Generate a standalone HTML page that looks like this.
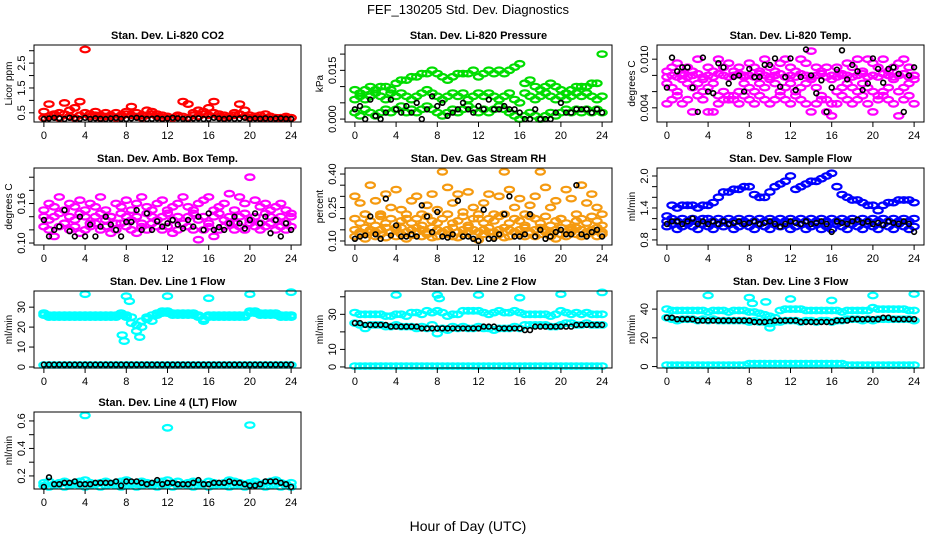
<!DOCTYPE html>
<html><head><meta charset="utf-8">
<style>
body{margin:0;background:#fff;}
svg{display:block;font-family:"Liberation Sans",sans-serif;}
</style></head>
<body>
<svg id="chart" width="936" height="540" viewBox="0 0 936 540">
<rect width="936" height="540" fill="#fff"/>
<text x="468" y="14" text-anchor="middle" font-size="13">FEF_130205  Std. Dev. Diagnostics</text>
<text x="468" y="531" text-anchor="middle" font-size="14">Hour of Day (UTC)</text>
</svg>
<script>
// ---- data arrays ----
const xTicks = [0,4,8,12,16,20,24];
const co2Red = [0.55,0.85,0.45,0.5,0.9,0.6,0.7,0.95,3.05,0.45,0.55,0.4,0.5,0.35,0.5,0.4,0.55,0.75,0.5,0.4,0.6,0.55,0.45,0.4,0.35,0.3,0.35,0.95,0.85,0.5,0.6,0.55,0.7,0.95,0.45,0.4,0.35,0.5,0.85,0.6,0.4,0.35,0.3,0.45,0.35,0.3,0.3,0.35,0.3];
const co2RedBase = [0.3,0.35,0.4,0.3,0.45,0.35,0.3,0.4,0.5,0.35,0.4,0.3,0.35,0.4,0.3,0.35,0.45,0.4,0.35,0.3,0.4,0.45,0.35,0.3,0.35,0.3,0.4,0.35,0.3,0.4,0.35,0.45,0.4,0.5,0.35,0.3,0.35,0.4,0.45,0.35,0.3,0.35,0.4,0.3,0.35,0.3,0.3,0.3,0.3];
const co2Black = [0.25,0.27,0.3,0.28,0.25,0.3,0.27,0.26,0.3,0.25,0.28,0.26,0.25,0.27,0.3,0.26,0.25,0.28,0.3,0.27,0.25,0.26,0.28,0.25,0.27,0.3,0.28,0.26,0.25,0.27,0.28,0.25,0.26,0.3,0.27,0.25,0.28,0.26,0.27,0.3,0.25,0.27,0.26,0.28,0.25,0.27,0.28,0.26,0.25];
const pressUp = [0.009,0.008,0.009,0.010,0.009,0.010,0.010,0.009,0.011,0.012,0.012,0.013,0.013,0.014,0.014,0.015,0.014,0.013,0.012,0.013,0.014,0.014,0.014,0.015,0.013,0.014,0.015,0.014,0.015,0.014,0.015,0.016,0.017,0.011,0.012,0.010,0.009,0.010,0.011,0.010,0.009,0.008,0.009,0.010,0.010,0.010,0.011,0.011,0.020];
const pressMid = [0.006,0.007,0.006,0.007,0.008,0.007,0.006,0.008,0.007,0.008,0.007,0.006,0.007,0.008,0.009,0.008,0.007,0.006,0.007,0.008,0.007,0.008,0.006,0.007,0.008,0.007,0.008,0.007,0.006,0.007,0.008,0.006,0.005,0.008,0.007,0.006,0.007,0.008,0.007,0.006,0.007,0.006,0.007,0.008,0.007,0.008,0.007,0.006,0.007];
const pressLo = [0.002,0.001,0.003,0.002,0.001,0.002,0.003,0.002,0.003,0.004,0.002,0.003,0.002,0.003,0.004,0.003,0.002,0.001,0.002,0.003,0.002,0.003,0.004,0.003,0.002,0.003,0.002,0.003,0.004,0.003,0.002,0.001,0.000,0.001,0.002,0.001,0.000,0.001,0.002,0.001,0.002,0.003,0.002,0.003,0.002,0.003,0.002,0.003,0.002];
const pressBlack = [0.003,0.004,0.000,0.006,0.001,0.000,0.002,0.006,0.003,0.002,0.004,0.002,0.005,0.000,0.003,0.007,0.004,0.005,0.001,0.002,0.003,0.005,0.003,0.002,0.004,0.003,0.006,0.003,0.003,0.004,0.003,0.003,0.002,0.000,0.000,0.003,0.000,0.000,0.000,0.002,0.005,0.002,0.002,0.003,0.003,0.003,0.002,0.003,0.002];
const tempA = [0.0085,0.009,0.0095,0.008,0.009,0.0085,0.010,0.0075,0.009,0.0085,0.010,0.009,0.0095,0.0085,0.009,0.008,0.0095,0.009,0.0085,0.010,0.009,0.0085,0.0095,0.010,0.009,0.0085,0.010,0.0095,0.011,0.009,0.0085,0.009,0.0075,0.009,0.008,0.0095,0.009,0.010,0.0085,0.010,0.0095,0.009,0.010,0.0085,0.009,0.0095,0.010,0.009,0.008];
const tempB = [0.007,0.0065,0.006,0.0075,0.007,0.0065,0.007,0.006,0.0065,0.007,0.0055,0.006,0.005,0.0055,0.006,0.007,0.0065,0.006,0.007,0.0065,0.0075,0.007,0.006,0.0065,0.007,0.006,0.0065,0.007,0.0075,0.0065,0.0055,0.005,0.0045,0.006,0.0065,0.007,0.0065,0.006,0.007,0.0065,0.006,0.0055,0.006,0.0065,0.0075,0.006,0.0065,0.007,0.0075];
const tempC = [0.0045,0.005,0.0055,0.0045,0.005,0.0035,0.0055,0.005,0.0035,0.0035,0.0045,0.005,0.0055,0.005,0.0045,0.0055,0.005,0.0045,0.0055,0.005,0.0045,0.005,0.0055,0.005,0.0045,0.0055,0.005,0.0045,0.0035,0.0045,0.005,0.0035,0.003,0.0045,0.0055,0.005,0.0045,0.005,0.0055,0.0045,0.0035,0.005,0.0055,0.005,0.0045,0.003,0.005,0.0055,0.0045];
const tempD = [0.0078,0.008,0.0078,0.0082,0.0078,0.008,0.0082,0.0078,0.008,0.0078,0.0082,0.008,0.0078,0.008,0.0082,0.0078,0.008,0.0078,0.0082,0.008,0.0078,0.008,0.0082,0.0078,0.008,0.0078,0.0082,0.008,0.0078,0.008,0.0082,0.0078,0.008,0.0078,0.0082,0.008,0.0078,0.008,0.0082,0.0078,0.008,0.0078,0.0082,0.008,0.0078,0.008,0.0082,0.0078,0.008];
const tempBlack = [0.0065,0.0102,0.0085,0.009,0.009,0.0065,0.0035,0.0102,0.006,0.0058,0.0095,0.009,0.007,0.0078,0.008,0.006,0.0088,0.0078,0.0078,0.0093,0.0093,0.0101,0.0066,0.0078,0.0101,0.0062,0.0078,0.0112,0.008,0.0058,0.0074,0.0035,0.0065,0.0087,0.0111,0.0075,0.0093,0.0085,0.0062,0.007,0.0101,0.0088,0.0071,0.0088,0.009,0.0082,0.0035,0.008,0.009];
const ambA = [0.15,0.16,0.155,0.17,0.15,0.16,0.155,0.165,0.15,0.16,0.155,0.17,0.15,0.14,0.16,0.155,0.165,0.15,0.16,0.17,0.155,0.15,0.16,0.165,0.15,0.155,0.16,0.17,0.155,0.15,0.16,0.165,0.17,0.15,0.155,0.16,0.175,0.15,0.17,0.16,0.2,0.165,0.155,0.16,0.15,0.155,0.16,0.15,0.145];
const ambB = [0.14,0.135,0.14,0.145,0.13,0.14,0.135,0.145,0.14,0.13,0.14,0.145,0.135,0.14,0.13,0.145,0.14,0.135,0.14,0.13,0.145,0.14,0.135,0.14,0.145,0.135,0.14,0.13,0.14,0.145,0.135,0.14,0.13,0.14,0.145,0.135,0.14,0.13,0.14,0.145,0.135,0.14,0.13,0.145,0.14,0.135,0.14,0.13,0.14];
const ambC = [0.125,0.12,0.11,0.125,0.13,0.12,0.125,0.115,0.12,0.125,0.13,0.12,0.125,0.115,0.12,0.13,0.125,0.12,0.115,0.125,0.12,0.13,0.125,0.12,0.125,0.115,0.12,0.13,0.125,0.12,0.105,0.12,0.125,0.11,0.12,0.125,0.13,0.12,0.125,0.12,0.13,0.125,0.12,0.125,0.13,0.12,0.125,0.12,0.125];
const ambBlack = [0.135,0.11,0.12,0.125,0.15,0.118,0.11,0.14,0.11,0.128,0.11,0.125,0.14,0.128,0.12,0.11,0.132,0.132,0.15,0.12,0.145,0.12,0.133,0.125,0.13,0.135,0.128,0.122,0.135,0.125,0.14,0.12,0.145,0.12,0.124,0.12,0.13,0.14,0.13,0.122,0.135,0.145,0.13,0.14,0.115,0.135,0.11,0.13,0.12];
const rhUp = [0.3,0.27,0.22,0.35,0.28,0.22,0.31,0.25,0.33,0.24,0.2,0.28,0.3,0.22,0.26,0.31,0.24,0.41,0.34,0.27,0.31,0.23,0.32,0.25,0.2,0.27,0.31,0.22,0.3,0.41,0.33,0.25,0.29,0.22,0.26,0.3,0.41,0.34,0.25,0.28,0.2,0.33,0.29,0.22,0.35,0.27,0.31,0.25,0.22];
const rhMid = [0.2,0.18,0.22,0.19,0.17,0.21,0.18,0.2,0.16,0.19,0.22,0.18,0.2,0.17,0.21,0.19,0.18,0.2,0.22,0.18,0.19,0.21,0.17,0.2,0.22,0.18,0.2,0.19,0.21,0.22,0.18,0.2,0.19,0.17,0.21,0.2,0.18,0.21,0.17,0.19,0.2,0.18,0.16,0.19,0.2,0.18,0.21,0.19,0.17];
const rhLo = [0.12,0.13,0.11,0.14,0.12,0.13,0.115,0.14,0.12,0.13,0.11,0.125,0.14,0.12,0.13,0.115,0.12,0.14,0.13,0.12,0.115,0.13,0.14,0.12,0.105,0.13,0.14,0.12,0.13,0.115,0.12,0.14,0.13,0.12,0.135,0.12,0.13,0.14,0.12,0.11,0.13,0.12,0.14,0.13,0.12,0.13,0.14,0.12,0.13];
const rhLo2 = [0.15,0.14,0.16,0.15,0.14,0.15,0.16,0.14,0.15,0.16,0.14,0.15,0.16,0.15,0.14,0.16,0.15,0.14,0.15,0.16,0.14,0.15,0.16,0.15,0.14,0.15,0.16,0.14,0.15,0.16,0.15,0.14,0.15,0.16,0.14,0.15,0.16,0.15,0.14,0.15,0.16,0.14,0.15,0.16,0.15,0.14,0.15,0.16,0.14];
const rhBlack = [0.11,0.12,0.125,0.21,0.13,0.11,0.29,0.125,0.17,0.12,0.12,0.13,0.12,0.26,0.21,0.14,0.23,0.12,0.115,0.13,0.28,0.12,0.12,0.11,0.1,0.24,0.11,0.11,0.13,0.22,0.3,0.12,0.12,0.13,0.22,0.12,0.15,0.11,0.12,0.14,0.15,0.13,0.13,0.35,0.13,0.12,0.14,0.15,0.12];
const sfUp = [1.25,1.45,1.4,1.45,1.45,1.45,1.4,1.45,1.45,1.5,1.6,1.7,1.7,1.75,1.75,1.8,1.8,1.65,1.6,1.6,1.7,1.8,1.85,1.9,2.0,1.75,1.8,1.85,1.9,1.9,1.95,2.0,2.05,1.8,1.65,1.6,1.55,1.55,1.5,1.45,1.45,1.35,1.45,1.5,1.5,1.55,1.55,1.55,1.5];
const sfLo = [1.05,1.1,1.0,1.05,1.1,1.05,1.0,1.1,1.05,1.0,1.1,1.05,1.1,1.0,1.05,1.1,1.05,1.0,1.1,1.05,1.0,1.1,1.05,1.1,1.0,1.05,1.1,1.0,1.05,1.1,1.0,1.05,1.0,1.1,1.05,1.0,1.1,1.05,1.0,1.1,1.05,1.0,1.1,1.05,1.0,1.1,1.05,1.0,1.05];
const sfMid = [1.15,1.2,1.15,1.2,1.15,1.2,1.15,1.2,1.2,1.15,1.2,1.15,1.2,1.15,1.2,1.15,1.2,1.15,1.2,1.15,1.2,1.15,1.2,1.15,1.2,1.15,1.2,1.15,1.2,1.15,1.2,1.15,1.2,1.15,1.2,1.15,1.2,1.15,1.2,1.15,1.2,1.15,1.2,1.15,1.2,1.15,1.2,1.15,1.2];
const sfBlack = [1.1,1.15,1.15,1.1,1.15,1.2,1.1,1.15,1.1,1.15,1.1,1.15,1.1,1.12,1.15,1.1,1.12,1.15,1.1,1.12,1.15,1.1,1.05,1.1,1.15,1.12,1.1,1.15,1.1,1.12,1.15,1.1,0.95,1.15,1.12,1.1,1.15,1.18,1.12,1.15,1.1,1.12,1.08,1.15,1.12,1.1,1.15,1.1,0.95];
const l1Up = [27,26,26,26,26,25,26,25,25,26,25,26,25,25,26,26,25,22,18,20,24,23,26,27,27,27,27,26,26,27,26,24,25,26,26,25,26,26,26,25,27,27,27,26,27,26,26,26,26];
const l1Up2 = [26,25,25,25,25,26,25,26,26,25,26,25,26,26,25,27,26,25,21,23,25,26,27,28,28,26,26,27,27,26,25,23,26,25,25,26,25,25,25,26,28,28,26,27,26,27,25,25,25];
const l1OutHours = [4,7.6,7.8,8,8.3,9.3,12,16,20,24];
const l1OutVals = [36.5,16,13,35.5,33,15,35.5,34.5,36.5,37.5];
const l1Base = [1,1,1,1,1,1,1,1,1,1,1,1,1,1,1,1,1,1,1,1,1,1,1,1,1,1,1,1,1,1,1,1,1,1,1,1,1,1,1,1,1,1,1,1,1,1,1,1,1];
const l1Black = [1.2,1.2,1.2,1.2,1.2,1.2,1.2,1.2,1.2,1.2,1.2,1.2,1.2,1.2,1.2,1.2,1.2,1.2,1.2,1.2,1.2,1.2,1.2,1.2,1.2,1.2,1.2,1.2,1.2,1.2,1.2,1.2,1.2,1.2,1.2,1.2,1.2,1.2,1.2,1.2,1.2,1.2,1.2,1.2,1.2,1.2,1.2,1.2,1.2];
const l2Up = [31,30,30,30,30,30,29,29,30,30,29,31,31,30,32,31,32,31,29,30,30,32,32,32,32,31,30,31,32,31,31,32,31,30,30,30,30,30,29,30,32,31,30,31,30,31,30,30,30];
const l2Mid = [25,24,22,24,24,24,23,23,24,23,23,23,22,23,22,24,19,22,21,23,22,23,22,22,23,22,22,21,22,22,22,23,22,24,24,24,24,24,23,23,24,25,25,24,24,25,24,24,24];
const l2OutHours = [4,8,8.2,12,16,20,24];
const l2OutVals = [41,41,39,41,39.5,41.5,42.5];
const l2Base = [0.5,0.5,0.5,0.5,0.5,0.5,0.5,0.5,0.5,0.5,0.5,0.5,0.5,0.5,0.5,0.5,0.5,0.5,0.5,0.5,0.5,0.5,0.5,0.5,0.5,0.5,0.5,0.5,0.5,0.5,0.5,0.5,0.5,0.5,0.5,0.5,0.5,0.5,0.5,0.5,0.5,0.5,0.5,0.5,0.5,0.5,0.5,0.5,0.5];
const l2Black = [25,25,24,24,24,24,24,23,23,23,23,23,23,22,22,22,22,22,22,22,22,22,22,22,22,23,23,23,22,22,22,22,22,21,21,23,23,23,23,23,23,23,23,24,24,24,24,24,24];
const l3Up = [40,39,39,39,39,39,39,39,38,39,39,39,38,39,39,39,38,38,37,36,35,34,39,40,40,40,40,39,39,39,39,39,39,39,38,39,39,39,39,39,41,40,40,40,40,40,40,39,39];
const l3Mid = [34,33,32,33,33,33,32,33,32,33,32,32,32,32,32,32,31,32,31,31,30,31,31,32,32,32,31,32,32,31,32,32,31,32,32,33,33,33,32,33,32,33,33,33,33,33,33,33,32];
const l3OutHours = [4,8,8.3,9.6,10,12,16,20,24];
const l3OutVals = [49.5,48,44,45,27,47,46,49.5,50.5];
const l3Base = [1,1,1,1,1,1,1,1,1,1,1,1,1,1,1,1,2,2,2,2,2,2,2,2,2,2,2,2,2,2,2,2,2,2,2,1,1,1,1,1,1,1,1,1,1,1,1,1,1];
const l3Black = [34,34,33,33,33,33,32,32,32,32,32,32,32,32,32,32,32,31,31,31,31,32,32,32,32,32,31,31,31,31,31,31,31,32,32,32,33,33,33,33,33,33,34,34,33,33,33,33,33];
const l4Cyan = [0.15,0.16,0.14,0.15,0.16,0.14,0.15,0.16,0.17,0.15,0.14,0.15,0.16,0.14,0.15,0.16,0.17,0.15,0.14,0.16,0.15,0.14,0.15,0.16,0.17,0.15,0.16,0.14,0.15,0.16,0.15,0.14,0.16,0.15,0.14,0.15,0.17,0.16,0.15,0.14,0.15,0.16,0.14,0.15,0.16,0.17,0.15,0.14,0.15];
const l4Cyan2 = [0.13,0.12,0.13,0.14,0.12,0.13,0.14,0.13,0.12,0.13,0.14,0.12,0.13,0.14,0.13,0.12,0.13,0.14,0.12,0.13,0.14,0.13,0.12,0.13,0.14,0.12,0.13,0.14,0.13,0.12,0.13,0.14,0.12,0.13,0.14,0.13,0.12,0.13,0.14,0.12,0.13,0.14,0.13,0.12,0.13,0.14,0.12,0.13,0.12];
const l4OutHours = [4,12,20];
const l4OutVals = [0.64,0.55,0.57];
const l4Black = [0.12,0.19,0.14,0.14,0.15,0.15,0.16,0.14,0.14,0.14,0.15,0.15,0.15,0.15,0.16,0.13,0.16,0.16,0.16,0.15,0.14,0.15,0.17,0.14,0.15,0.15,0.14,0.14,0.14,0.15,0.17,0.14,0.14,0.15,0.15,0.15,0.16,0.15,0.15,0.14,0.13,0.13,0.14,0.16,0.16,0.16,0.15,0.14,0.12];

// ---- layout (not data) ----
const colL = [34,345,657], rowT = [45,168,291,412], PW = 267, PH = 77;
const MAG="#ff00ff", CY="#00ffff", BL="#0000ff", GR="#00dd00", RD="#ff0000", OR="#f59a10", BK="#000";
const panels = [
 {name:"co2",title:"Stan. Dev. Li-820 CO2",ylab:"Licor ppm",c:0,r:0,y0:0.13,y1:3.23,ticks:[0.5,1,1.5,2,2.5,3],labs:[0.5,1.5,2.5],fmt:1,
  series:[[co2RedBase,RD],[co2Red,RD],[co2Black,BK]]},
 {name:"pressure",title:"Stan. Dev. Li-820 Pressure",ylab:"kPa",c:1,r:0,y0:-0.0009,y1:0.0228,ticks:[0,0.005,0.01,0.015,0.02],labs:[0,0.015],fmt:3,
  series:[[pressUp,GR],[pressMid,GR],[pressLo,GR],[pressBlack,BK]]},
 {name:"temp",title:"Stan. Dev. Li-820 Temp.",ylab:"degrees C",c:2,r:0,y0:0.00225,y1:0.01175,ticks:[0.004,0.006,0.008,0.01],labs:[0.004,0.01],fmt:3,
  series:[[tempA,MAG],[tempD,MAG],[tempB,MAG],[tempC,MAG],[tempBlack,BK]]},
 {name:"amb-box-temp",title:"Stan. Dev. Amb. Box Temp.",ylab:"degrees C",c:0,r:1,y0:0.097,y1:0.214,ticks:[0.1,0.12,0.14,0.16,0.18,0.2],labs:[0.1,0.16],fmt:2,
  series:[[ambA,MAG],[ambB,MAG],[ambC,MAG],[ambBlack,BK]]},
 {name:"gas-rh",title:"Stan. Dev. Gas Stream RH",ylab:"percent",c:1,r:1,y0:0.082,y1:0.427,ticks:[0.1,0.15,0.2,0.25,0.3,0.35,0.4],labs:[0.1,0.25,0.4],fmt:2,
  series:[[rhUp,OR],[rhMid,OR],[rhLo2,OR],[rhLo,OR],[rhBlack,BK]]},
 {name:"sample-flow",title:"Stan. Dev. Sample Flow",ylab:"ml/min",c:2,r:1,y0:0.705,y1:2.15,ticks:[0.8,1,1.2,1.4,1.6,1.8,2],labs:[0.8,1.4,2],fmt:1,
  series:[[sfUp,BL],[sfLo,BL],[sfMid,BL],[sfBlack,BK]]},
 {name:"line1-flow",title:"Stan. Dev. Line 1 Flow",ylab:"ml/min",c:0,r:2,y0:-0.5,y1:38.1,ticks:[0,10,20,30],labs:[0,10,20,30],fmt:0,
  series:[[l1Up,CY],[l1Up2,CY],[l1Base,CY],[l1Black,BK]],out:[l1OutHours,l1OutVals,CY]},
 {name:"line2-flow",title:"Stan. Dev. Line 2 Flow",ylab:"ml/min",c:1,r:2,y0:-0.6,y1:43.3,ticks:[0,10,20,30,40],labs:[0,10,30],fmt:0,
  series:[[l2Up,CY],[l2Mid,CY],[l2Base,CY],[l2Black,BK]],out:[l2OutHours,l2OutVals,CY]},
 {name:"line3-flow",title:"Stan. Dev. Line 3 Flow",ylab:"ml/min",c:2,r:2,y0:-1,y1:52.6,ticks:[0,20,40],labs:[0,20,40],fmt:0,
  series:[[l3Up,CY],[l3Mid,CY],[l3Base,CY],[l3Black,BK]],out:[l3OutHours,l3OutVals,CY]},
 {name:"line4-flow",title:"Stan. Dev. Line 4 (LT) Flow",ylab:"ml/min",c:0,r:3,y0:0.105,y1:0.665,ticks:[0.2,0.3,0.4,0.5,0.6],labs:[0.2,0.4,0.6],fmt:1,
  series:[[l4Cyan,CY],[l4Cyan2,CY],[l4Black,BK]],out:[l4OutHours,l4OutVals,CY]}
];
const NS="http://www.w3.org/2000/svg";
const svg=document.getElementById('chart');
function mk(tag,attrs,parent){const e=document.createElementNS(NS,tag);for(const k in attrs)e.setAttribute(k,attrs[k]);(parent||svg).appendChild(e);return e;}
panels.forEach(p=>{
  const L=colL[p.c], T=rowT[p.r];
  const g=mk('g',{});
  
  
  const xs=h=>L+(h+0.96)/25.92*PW;
  const ys=v=>T+PH-(v-p.y0)/(p.y1-p.y0)*PH;
  const pts=mk('g',{fill:'none'},g);
  
  
  const draw=(h,v,col,black)=>{
    if(v<p.y0||v>p.y1)return;
    const c=mk('ellipse',{cx:xs(h).toFixed(1),cy:ys(v).toFixed(1),rx:black?2.4:4.6,ry:black?2.4:2.8,stroke:col,'stroke-width':black?1.6:2.2},pts);
    
    
  };
  p.series.forEach(([vals,col])=>{
    const n=vals.length;
    vals.forEach((v,i)=>draw(i*24/(n-1),v,col,col===BK));
  });
  if(p.out){p.out[0].forEach((h,i)=>draw(h,p.out[1][i],p.out[2],false));}
  const box=mk('rect',{x:L,y:T,width:PW,height:PH,fill:'none',stroke:'#000','stroke-width':1},g);
  
  
  const t=mk('text',{x:L+PW/2,y:T-6,'text-anchor':'middle','font-size':11,'font-weight':'bold'},g);
  t.textContent=p.title;
  
  
  const xa=mk('g',{},g);
  
  
  mk('line',{x1:xs(0),x2:xs(24),y1:T+PH,y2:T+PH,stroke:'#000'},xa);
  xTicks.forEach(h=>{
    mk('line',{x1:xs(h),x2:xs(h),y1:T+PH,y2:T+PH+5,stroke:'#000'},xa);
    const tx=mk('text',{x:xs(h),y:T+PH+17,'text-anchor':'middle','font-size':11},xa);
    tx.textContent=h;
    
    
  });
  const ya=mk('g',{},g);
  
  
  mk('line',{x1:L,x2:L,y1:ys(p.ticks[0]),y2:ys(p.ticks[p.ticks.length-1]),stroke:'#000'},ya);
  p.ticks.forEach(v=>{
    mk('line',{x1:L-5,x2:L,y1:ys(v),y2:ys(v),stroke:'#000'},ya);
  });
  p.labs.forEach(v=>{
    const yy=ys(v);
    const tx=mk('text',{x:L-9,y:yy,'text-anchor':'middle','font-size':11,transform:`rotate(-90 ${L-9} ${yy})`},ya);
    tx.textContent=v.toFixed(p.fmt);
    
    
  });
  const yl=mk('text',{x:L-22,y:T+PH/2,'text-anchor':'middle','font-size':10,transform:`rotate(-90 ${L-22} ${T+PH/2})`},g);
  yl.textContent=p.ylab;
  
  
});
</script>
</body></html>
